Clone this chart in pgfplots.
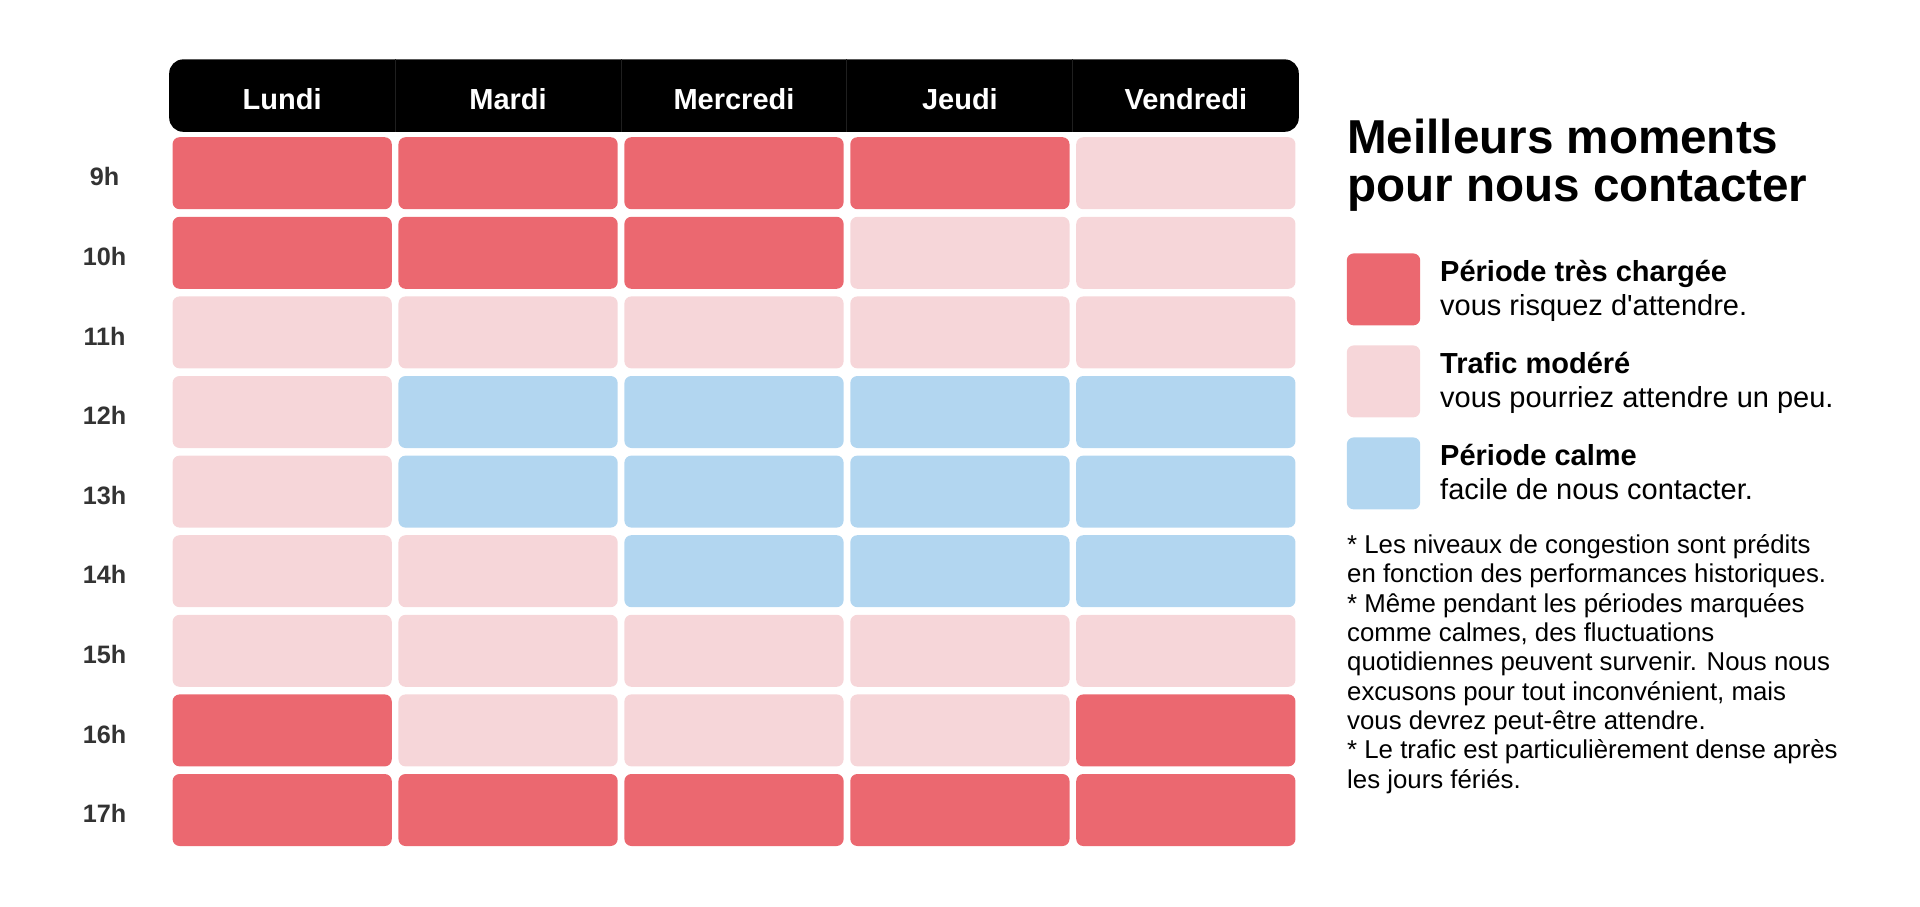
\documentclass[border=0pt]{standalone}
\usepackage{fontspec}
\setmainfont{Liberation Sans}
\usepackage{pgfplots}
\usepackage{pgfplotstable}
\pgfplotsset{compat=1.18}

\definecolor{busy}{RGB}{235,104,112}
\definecolor{moderate}{RGB}{246,214,217}
\definecolor{calm}{RGB}{178,214,240}
\definecolor{hourgray}{RGB}{51,51,51}

% one rounded cell of the timetable (half sizes 54.8pt x 18pt, radius 3.5pt)
\pgfdeclareplotmark{cell}{%
  \pgfpathmoveto{\pgfpoint{-51.3pt}{-18pt}}%
  \pgfpathlineto{\pgfpoint{51.3pt}{-18pt}}%
  \pgfpatharc{270}{360}{3.5pt}%
  \pgfpathlineto{\pgfpoint{54.8pt}{14.5pt}}%
  \pgfpatharc{0}{90}{3.5pt}%
  \pgfpathlineto{\pgfpoint{-51.3pt}{18pt}}%
  \pgfpatharc{90}{180}{3.5pt}%
  \pgfpathlineto{\pgfpoint{-54.8pt}{-14.5pt}}%
  \pgfpatharc{180}{270}{3.5pt}%
  \pgfpathclose
  \pgfusepathqfill}

% x: 0=Lundi ... 4=Vendredi ; y: 8=9h ... 0=17h
\pgfplotstableread{
x y level
0 8 busy
1 8 busy
2 8 busy
3 8 busy
4 8 moderate
0 7 busy
1 7 busy
2 7 busy
3 7 moderate
4 7 moderate
0 6 moderate
1 6 moderate
2 6 moderate
3 6 moderate
4 6 moderate
0 5 moderate
1 5 calm
2 5 calm
3 5 calm
4 5 calm
0 4 moderate
1 4 calm
2 4 calm
3 4 calm
4 4 calm
0 3 moderate
1 3 moderate
2 3 calm
3 3 calm
4 3 calm
0 2 moderate
1 2 moderate
2 2 moderate
3 2 moderate
4 2 moderate
0 1 busy
1 1 moderate
2 1 moderate
3 1 moderate
4 1 busy
0 0 busy
1 0 busy
2 0 busy
3 0 busy
4 0 busy
}\cells

\begin{document}
\begin{tikzpicture}
\path[use as bounding box] (0,0) rectangle (960pt,453pt);
\begin{axis}[
    at={(84.6pt,28.1pt)}, anchor=south west,
    x=112.96pt, y=39.8pt,
    xmin=-0.5, xmax=4.5,
    ymin=-0.5, ymax=8.5,
    clip=false,
    axis line style={draw=none},
    major tick length=0pt,
    xtick=\empty,
    ytick={0,...,8},
    yticklabels={17h,16h,15h,14h,13h,12h,11h,10h,9h},
    yticklabel style={anchor=center, xshift=-32.3pt, yshift=-1.8pt,
        font=\fontsize{12.6}{14}\selectfont\bfseries, text=hourgray},
    legend style={
        at={(axis description cs:1.0425,0.8325)}, anchor=north west,
        draw=none, fill=none, inner sep=0pt, outer sep=0pt,
        row sep=10pt, column sep=8pt,
        font=\fontsize{14.5}{16.8}\selectfont,
        cells={anchor=west, align=left, inner sep=0pt, yshift=-0.6pt},
    },
]

% header bar
\fill[black, rounded corners=7pt] (axis cs:-0.5,8.52) rectangle (axis cs:4.5,9.43);
\pgfplotsinvokeforeach{0.5,1.5,2.5,3.5}{
    \draw[black!88!white, line width=0.5pt] (axis cs:#1,8.52) -- (axis cs:#1,9.43);
}
\node[text=white, font=\fontsize{14.5}{16}\selectfont\bfseries] at (axis cs:0,8.93) {Lundi};
\node[text=white, font=\fontsize{14.5}{16}\selectfont\bfseries] at (axis cs:1,8.93) {Mardi};
\node[text=white, font=\fontsize{14.5}{16}\selectfont\bfseries] at (axis cs:2,8.93) {Mercredi};
\node[text=white, font=\fontsize{14.5}{16}\selectfont\bfseries] at (axis cs:3,8.93) {Jeudi};
\node[text=white, font=\fontsize{14.5}{16}\selectfont\bfseries] at (axis cs:4,8.93) {Vendredi};

\addplot[
    forget plot,
    scatter, only marks,
    point meta=explicit symbolic,
    scatter/classes={
        busy={mark=cell, fill=busy, draw=none},
        moderate={mark=cell, fill=moderate, draw=none},
        calm={mark=cell, fill=calm, draw=none}
    },
] table[x=x, y=y, meta=level] {\cells};

\addlegendimage{fill=busy, draw=none,
    legend image code/.code={\fill[rounded corners=3.5pt] (0pt,-18pt) rectangle (36.7pt,18pt);}}
\addlegendentry{\textbf{Période très chargée}\\vous risquez d\textquotesingle attendre.}
\addlegendimage{fill=moderate, draw=none,
    legend image code/.code={\fill[rounded corners=3.5pt] (0pt,-18pt) rectangle (36.7pt,18pt);}}
\addlegendentry{\textbf{Trafic modéré}\\vous pourriez attendre un peu.}
\addlegendimage{fill=calm, draw=none,
    legend image code/.code={\fill[rounded corners=3.5pt] (0pt,-18pt) rectangle (36.7pt,18pt);}}
\addlegendentry{\textbf{Période calme}\\facile de nous contacter.}
\end{axis}

% title
\node[anchor=base west, inner sep=0pt, font=\fontsize{23.8}{23.8}\selectfont\bfseries]
    at (673.4pt,376pt) {Meilleurs moments};
\node[anchor=base west, inner sep=0pt, font=\fontsize{23.8}{23.8}\selectfont\bfseries]
    at (673.4pt,352.15pt) {pour nous contacter};

% notes
\foreach \t [count=\i from 0] in {
    {* Les niveaux de congestion sont prédits},
    {en fonction des performances historiques.},
    {* Même pendant les périodes marquées},
    {comme calmes, des fluctuations},
    {quotidiennes peuvent survenir. Nous nous},
    {excusons pour tout inconvénient, mais},
    {vous devrez peut-être attendre.},
    {* Le trafic est particulièrement dense après},
    {les jours fériés.}}
{
    \node[anchor=base west, inner sep=0pt, font=\fontsize{12.9}{14.7}\selectfont]
        at (673.4pt,176.3pt-\i*14.67pt) {\t};
}
\end{tikzpicture}
\end{document}
